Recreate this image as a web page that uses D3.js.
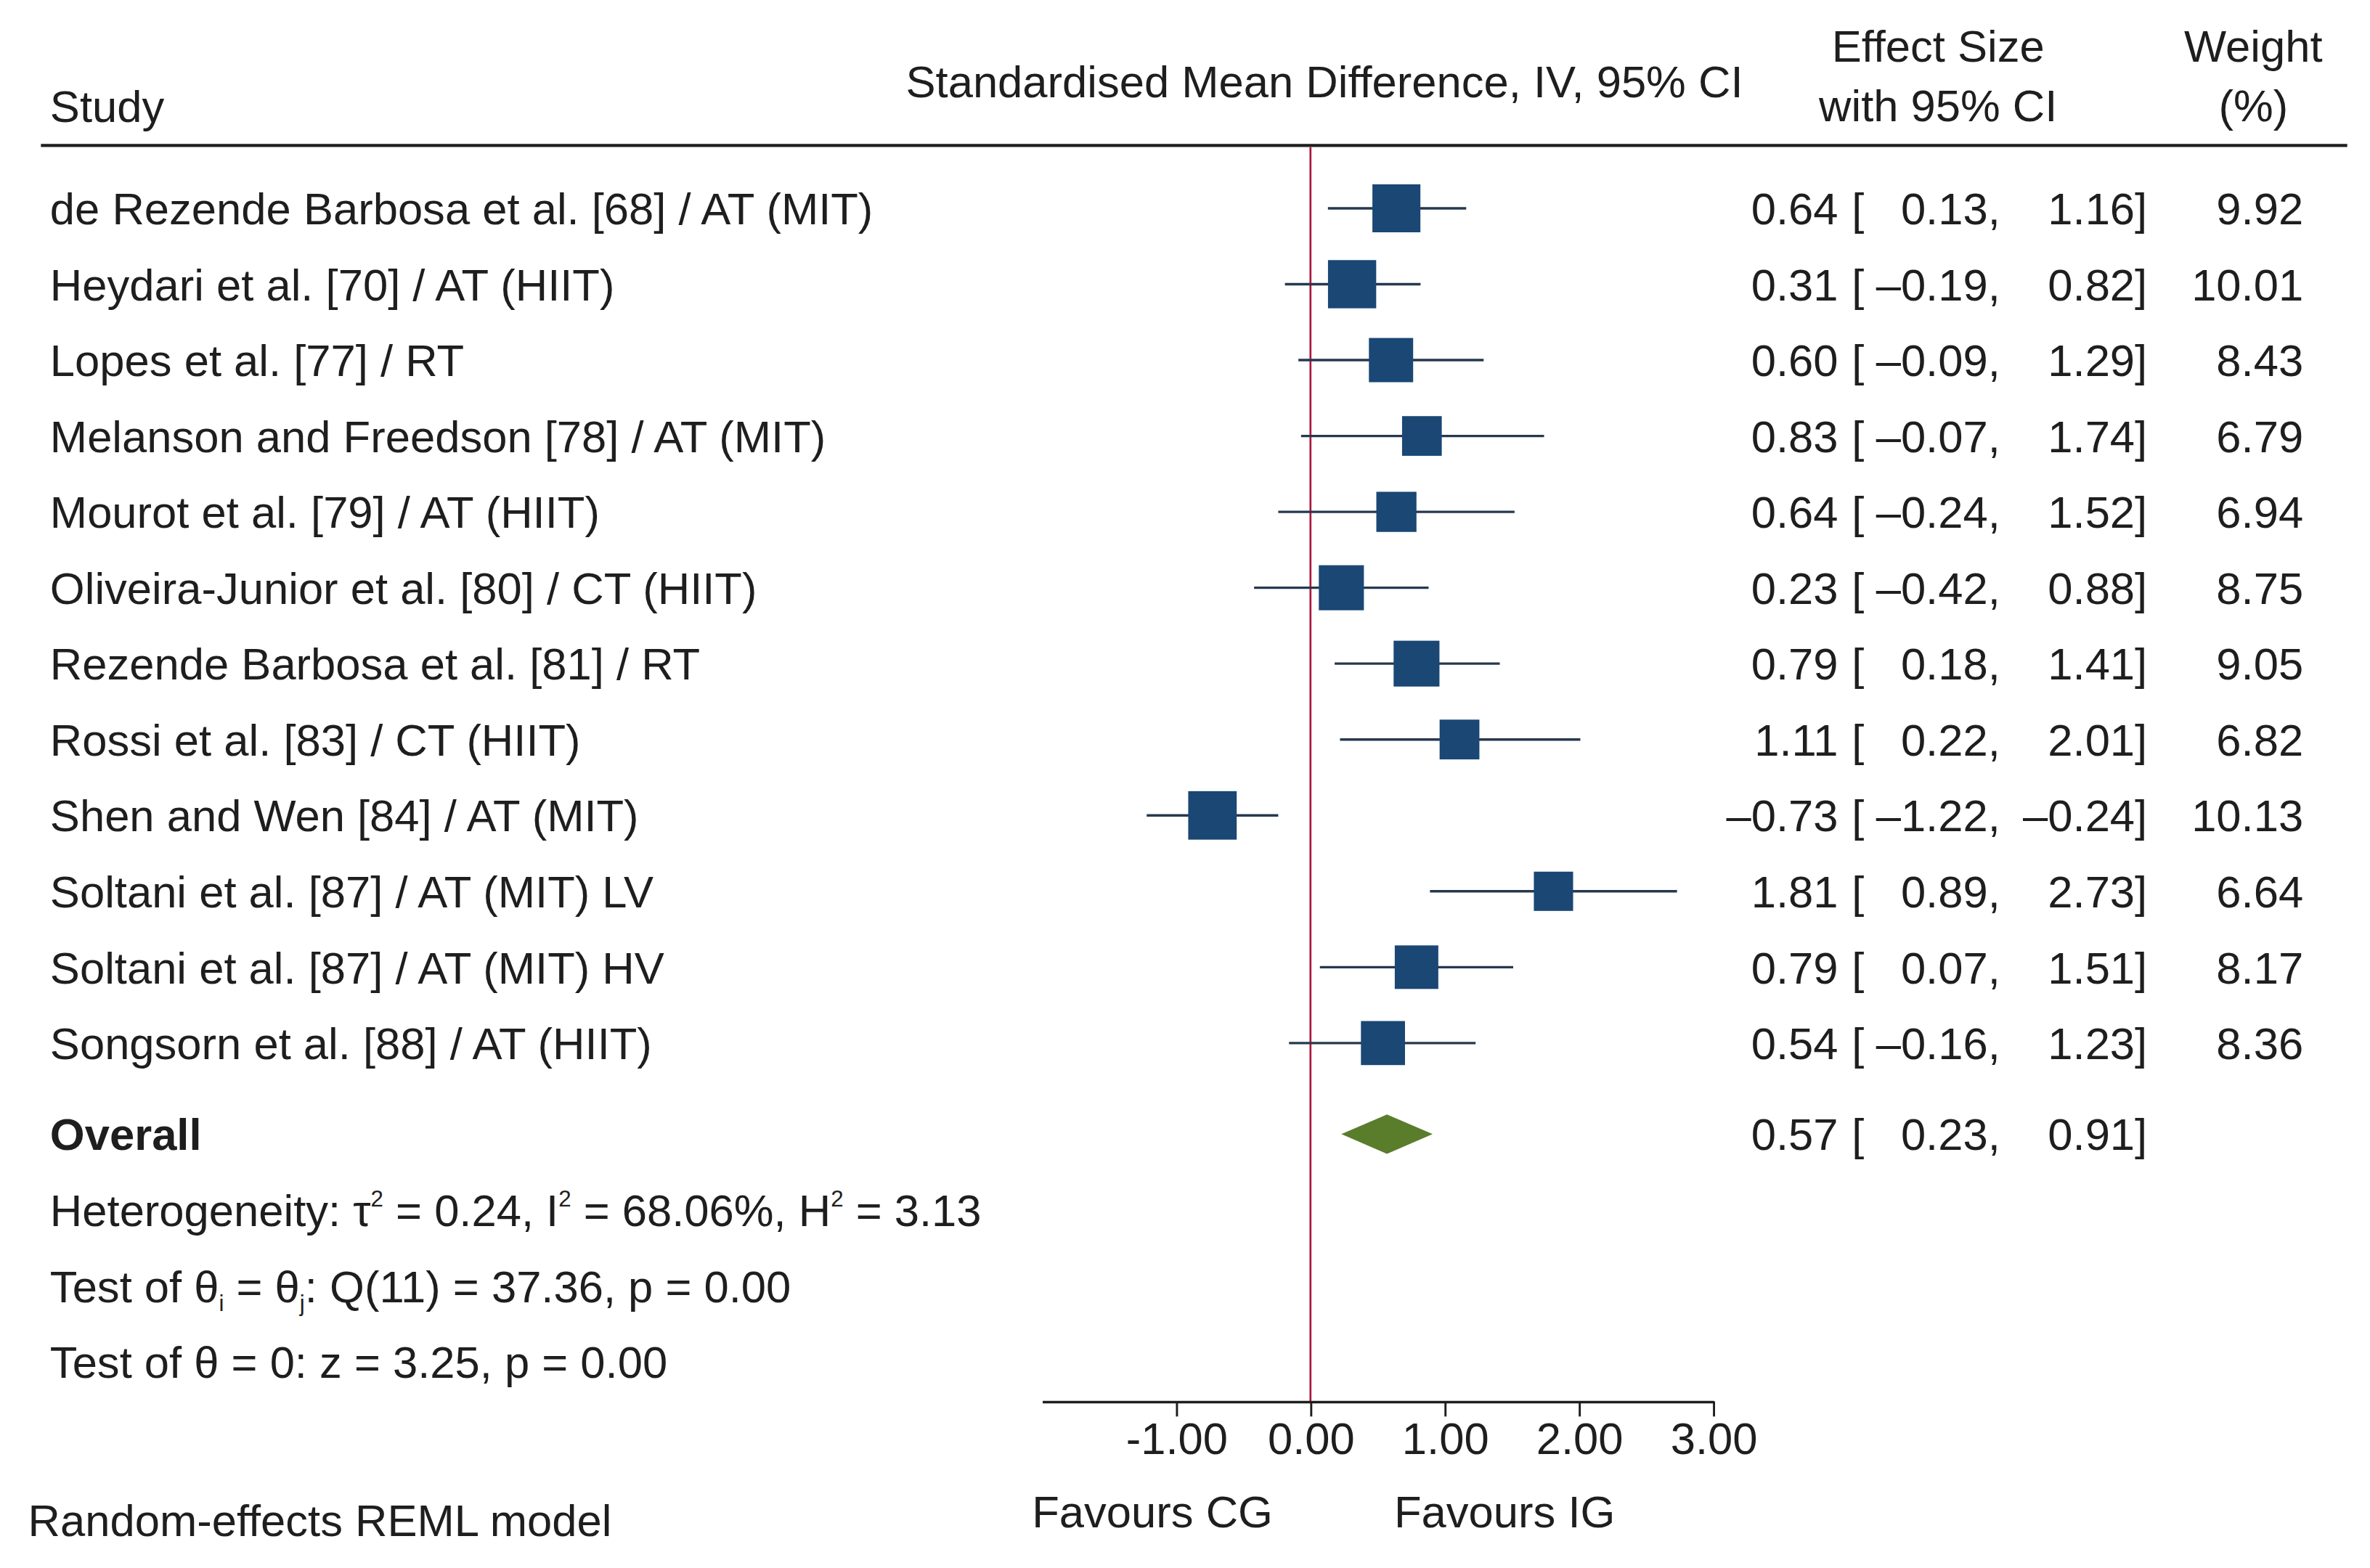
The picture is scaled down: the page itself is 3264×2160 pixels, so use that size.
<!DOCTYPE html>
<html>
<head>
<meta charset="utf-8">
<script src="https://cdn.jsdelivr.net/npm/d3@7"></script>
<style>
  body { margin: 0; background: #fff; }
  text { font-family: "Liberation Sans", Arial, Helvetica, sans-serif; fill: #1e1e1e; }
</style>
</head>
<body>
<svg id="forest"></svg>
<script>
const studies = [
  "de Rezende Barbosa et al. [68] / AT (MIT)",
  "Heydari et al. [70] / AT (HIIT)",
  "Lopes et al. [77] / RT",
  "Melanson and Freedson [78] / AT (MIT)",
  "Mourot et al. [79] / AT (HIIT)",
  "Oliveira-Junior et al. [80] / CT (HIIT)",
  "Rezende Barbosa et al. [81] / RT",
  "Rossi et al. [83] / CT (HIIT)",
  "Shen and Wen [84] / AT (MIT)",
  "Soltani et al. [87] / AT (MIT) LV",
  "Soltani et al. [87] / AT (MIT) HV",
  "Songsorn et al. [88] / AT (HIIT)"
];
const effect = [0.64, 0.31, 0.60, 0.83, 0.64, 0.23, 0.79, 1.11, -0.73, 1.81, 0.79, 0.54];
const ciLow  = [0.13, -0.19, -0.09, -0.07, -0.24, -0.42, 0.18, 0.22, -1.22, 0.89, 0.07, -0.16];
const ciHigh = [1.16, 0.82, 1.29, 1.74, 1.52, 0.88, 1.41, 2.01, -0.24, 2.73, 1.51, 1.23];
const weights = [9.92, 10.01, 8.43, 6.79, 6.94, 8.75, 9.05, 6.82, 10.13, 6.64, 8.17, 8.36];
const overall = { es: 0.57, lo: 0.23, hi: 0.91 };
const xTicks = [-1, 0, 1, 2, 3];

const W = 1564, H = 1035;
const svg = d3.select("#forest")
  .attr("width", 3264).attr("height", 2160)
  .attr("viewBox", `0 0 ${W} ${H}`);

const FS = 29.5;
const x = d3.scaleLinear().domain([-2, 3]).range([687.6, 1130.6]);
const y = d3.scaleLinear().domain([0, 11]).range([137.5, 688.5]);
const side = d3.scaleSqrt().domain([0, 10.13]).range([0, 32]);

const fmt = v => (v < 0 ? "\u2013" : "") + Math.abs(v).toFixed(2);

// header
const head = svg.append("g").style("font-size", FS + "px");
head.append("text").attr("x", 33).attr("y", 80.5).text("Study");
head.append("text").attr("x", 874).attr("y", 64).attr("text-anchor", "middle")
  .text("Standardised Mean Difference, IV, 95% CI");
head.append("text").attr("x", 1279).attr("y", 40.5).attr("text-anchor", "middle").text("Effect Size");
head.append("text").attr("x", 1279).attr("y", 80).attr("text-anchor", "middle").text("with 95% CI");
head.append("text").attr("x", 1487).attr("y", 40.5).attr("text-anchor", "middle").text("Weight");
head.append("text").attr("x", 1487).attr("y", 80).attr("text-anchor", "middle").text("(%)");

svg.append("line").attr("x1", 27).attr("x2", 1549).attr("y1", 96).attr("y2", 96)
  .attr("stroke", "#1e1e1e").attr("stroke-width", 2);

// no-effect line
const axisY = 925;
svg.append("line").attr("x1", x(0)).attr("x2", x(0)).attr("y1", 97).attr("y2", axisY)
  .attr("stroke", "#b0173f").attr("stroke-width", 1.3);

const rows = studies.map((s, i) => ({
  name: s, es: effect[i], lo: ciLow[i], hi: ciHigh[i], w: weights[i], i
}));

const g = svg.append("g").style("font-size", FS + "px");
const row = g.selectAll("g.row").data(rows).enter().append("g")
  .attr("class", "row")
  .attr("transform", d => `translate(0,${y(d.i)})`);

row.append("text").attr("x", 33).attr("dy", "0.36em").text(d => d.name);

row.append("line")
  .attr("x1", d => x(d.lo)).attr("x2", d => x(d.hi))
  .attr("stroke", "#26384f").attr("stroke-width", 1.6);

row.append("rect")
  .attr("x", d => x(d.es) - side(d.w) / 2)
  .attr("y", d => -side(d.w) / 2)
  .attr("width", d => side(d.w))
  .attr("height", d => side(d.w))
  .attr("fill", "#1a4774");

function valueCells(sel, d) {
  sel.append("text").attr("x", 1213).attr("dy", "0.36em").attr("text-anchor", "end").text(fmt(d.es));
  sel.append("text").attr("x", 1222).attr("dy", "0.36em").text("[");
  sel.append("text").attr("x", 1320).attr("dy", "0.36em").attr("text-anchor", "end").text(fmt(d.lo) + ",");
  sel.append("text").attr("x", 1417).attr("dy", "0.36em").attr("text-anchor", "end").text(fmt(d.hi) + "]");
}
row.each(function (d) {
  const sel = d3.select(this);
  valueCells(sel, d);
  sel.append("text").attr("x", 1520).attr("dy", "0.36em").attr("text-anchor", "end").text(d.w.toFixed(2));
});

// overall
const oy = y(12.2);
const og = g.append("g").attr("transform", `translate(0,${oy})`);
og.append("text").attr("x", 33).attr("dy", "0.36em").style("font-weight", "bold").text("Overall");
og.append("path")
  .attr("d", `M${x(overall.lo)},0 L${x(overall.es)},-13 L${x(overall.hi)},0 L${x(overall.es)},13 Z`)
  .attr("fill", "#5a7d2c");
valueCells(og, overall);

// heterogeneity and tests
const sup = (t, s) => t.append("tspan").attr("dy", -13).style("font-size", "15px").text(s);
const back = (t, txt, dy) => t.append("tspan").attr("dy", dy).style("font-size", FS + "px").text(txt);

const t1 = g.append("text").attr("x", 33).attr("y", y(13.2)).attr("dy", "0.36em");
t1.append("tspan").text("Heterogeneity: \u03c4");
sup(t1, "2"); back(t1, " = 0.24, I", 13);
sup(t1, "2"); back(t1, " = 68.06%, H", 13);
sup(t1, "2"); back(t1, " = 3.13", 13);

const t2 = g.append("text").attr("x", 33).attr("y", y(14.2)).attr("dy", "0.36em");
t2.append("tspan").text("Test of \u03b8");
t2.append("tspan").attr("dy", 6).style("font-size", "15px").text("i");
back(t2, " = \u03b8", -6);
t2.append("tspan").attr("dy", 6).style("font-size", "15px").text("j");
back(t2, ": Q(11) = 37.36, p = 0.00", -6);

g.append("text").attr("x", 33).attr("y", y(15.2)).attr("dy", "0.36em")
  .text("Test of \u03b8 = 0: z = 3.25, p = 0.00");

// x axis
const axis = svg.append("g").attr("transform", `translate(0,${axisY})`)
  .call(d3.axisBottom(x).tickValues(xTicks)
    .tickFormat(d => (d < 0 ? "-" : "") + Math.abs(d).toFixed(2))
    .tickSize(10).tickSizeOuter(0).tickPadding(8));
axis.select(".domain").attr("stroke", "#1e1e1e").attr("stroke-width", 1.6);
axis.selectAll(".tick line").attr("stroke", "#1e1e1e").attr("stroke-width", 1.4);
axis.selectAll(".tick text").style("font-size", FS + "px").attr("fill", "#1e1e1e")
  .attr("dy", null).attr("y", 35);

svg.append("text").attr("x", 681).attr("y", 1008).style("font-size", FS + "px").text("Favours CG");
svg.append("text").attr("x", 920).attr("y", 1008).style("font-size", FS + "px").text("Favours IG");
svg.append("text").attr("x", 18.5).attr("y", 1014).style("font-size", FS + "px").text("Random-effects REML model");
</script>
</body>
</html>
